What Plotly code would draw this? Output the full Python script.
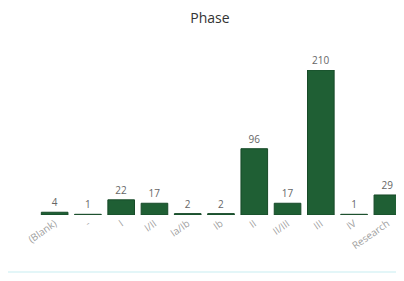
import plotly.graph_objects as go

categories = ["(Blank)", "-", "I", "I/II", "Ia/Ib", "Ib", "II", "II/III", "III", "IV", "Research"]
values = [4, 1, 22, 17, 2, 2, 96, 17, 210, 1, 29]

fig = go.Figure(go.Bar(
    x=categories, y=values,
    marker=dict(color="#1f5f34", line=dict(color="#174a28", width=1)),
    text=[str(v) for v in values], textposition="outside",
    textfont=dict(family="Open Sans", size=10, color="#666666"),
    cliponaxis=False,
))
fig.update_layout(
    width=396, height=273,
    margin=dict(l=30, r=0, t=62, b=66),
    paper_bgcolor="white", plot_bgcolor="white",
    title=dict(text="Phase", x=0.51, xanchor="center", y=0.963, yanchor="middle",
               font=dict(family="Open Sans", size=14, color="#333333")),
    bargap=0.2,
    showlegend=False,
)
fig.update_xaxes(tickangle=-35, tickfont=dict(family="Open Sans", size=10, color="#a0a0a0"),
                 showgrid=False, showline=False, ticks="")
fig.update_yaxes(visible=False, range=[0, 210])
fig.add_shape(type="line", xref="paper", yref="paper", x0=-0.3, x1=1.05, y0=-0.393, y1=-0.393,
              line=dict(color="#e3f6f8", width=2))
fig.write_html("out.html")
